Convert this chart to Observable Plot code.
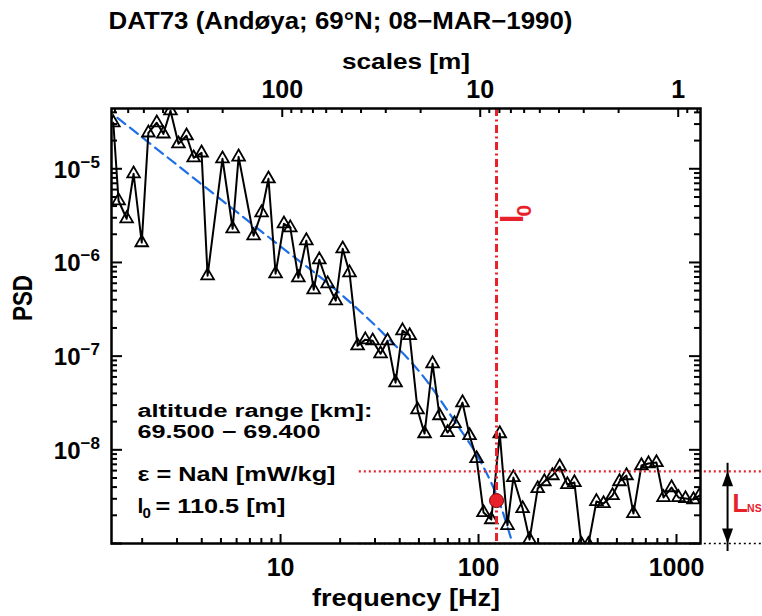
<!DOCTYPE html>
<html><head><meta charset="utf-8">
<script src="https://cdn.jsdelivr.net/npm/d3@7"></script>
<script src="https://cdn.jsdelivr.net/npm/@observablehq/plot@0.6"></script>
<style>body{margin:0;background:#fff}</style>
</head><body>
<div id="chart"></div>
<script>
// ---------- data ----------
const titleText = "DAT73 (Andøya; 69°N; 08−MAR−1990)";

const freq = [1.43, 1.52, 1.67, 1.81, 1.99, 2.15, 2.37, 2.56, 2.78, 3.05,
  3.35, 3.64, 3.99, 4.28, 5.09, 5.73, 6.14, 7.31, 8.02, 8.69,
  9.44, 10.4, 11.2, 12.3, 13.5, 14.7, 15.7, 17.3, 19.0, 20.6,
  22.3, 24.5, 26.8, 29.2, 32.0, 34.7, 38.1, 41.3, 44.9, 49.2,
  53.4, 58.6, 63.5, 69.7, 75.6, 83.0, 90.1, 97.8, 106, 116,
  128, 140, 150, 167, 181, 199, 215, 236, 257, 281,
  305, 331, 359, 394, 428, 475, 515, 559, 606, 665,
  722, 792, 860, 944, 1024, 1110, 1218, 1306];

const psd = [3.10e-5, 4.56e-6, 2.93e-6, 8.85e-6, 1.63e-6, 2.42e-5, 3.10e-5, 2.36e-5, 4.16e-5, 1.85e-5,
  2.25e-5, 1.31e-5, 1.48e-5, 7.23e-7, 1.28e-5, 2.29e-6, 1.34e-5, 1.93e-6, 3.40e-6, 7.82e-6,
  7.59e-7, 2.59e-6, 2.35e-6, 6.87e-7, 1.71e-6, 5.12e-7, 1.07e-6, 5.93e-7, 3.91e-7, 1.40e-6,
  7.78e-7, 1.29e-7, 1.50e-7, 1.46e-7, 1.06e-7, 1.46e-7, 5.21e-8, 1.87e-7, 1.66e-7, 2.68e-8,
  1.49e-8, 8.32e-8, 2.32e-8, 1.53e-8, 1.91e-8, 3.19e-8, 1.42e-8, 8.07e-9, 2.14e-9, 1.80e-9,
  1.49e-8, 1.56e-9, 5.06e-9, 2.36e-9, 1.10e-9, 3.86e-9, 4.58e-9, 5.31e-9, 6.62e-9, 4.26e-9,
  4.48e-9, 9.8e-10, 9.8e-10, 2.81e-9, 2.67e-9, 3.25e-9, 4.58e-9, 5.31e-9, 2.09e-9, 6.79e-9,
  7.13e-9, 7.31e-9, 3.10e-9, 3.95e-9, 3.10e-9, 3.02e-9, 2.94e-9, 3.25e-9];

// model spectrum (blue dashed)
const modelFreq = [1.50, 3.94, 10.0, 20.1, 33.1, 52.7, 78.3, 102.4, 129.2, 146.9];
const modelPsd  = [3.50e-5, 6.98e-6, 1.48e-6, 4.62e-7, 1.74e-7, 6.04e-8, 1.82e-8, 7.50e-9, 2.54e-9, 1.08e-9];

const l0Freq = 123.3;        // inner scale marker (Hz)
const l0Psd = 2.87e-9;       // red dot
const noiseLevel = 5.9e-9;   // red dotted line
const floorLevel = 1.0e-9;   // black dotted line
const levelFreqRange = [25, 2700];
const arrowFreq = 1811;
const rocketSpeed = 1020;    // scale [m] = speed / frequency

const annotations = ["altitude range [km]:", "69.500 − 69.400", "ε = NaN [mW/kg]"];
const l0Text = ["l", "0", "= 110.5 [m]"];
const lnsText = ["L", "NS"];

const xTickMajor = [10, 100, 1000];
const xTickLabels = ["10", "100", "1000"];
const xTickMinor = [2,3,4,5,6,7,8,9,20,30,40,50,60,70,80,90,200,300,400,500,600,700,800,900];
const scaleTickMajor = [100, 10, 1];
const scaleTickLabels = ["100", "10", "1"];
const scaleTickMinor = [700,600,500,400,300,200,90,80,70,60,50,40,30,20,9,8,7,6,5,4,3,2,0.9,0.8];
const yTickMajor = [1e-9, 1e-8, 1e-7, 1e-6, 1e-5];
const yLabelValues = [1e-8, 1e-7, 1e-6, 1e-5];
const yLabelExponents = ["−8", "−7", "−6", "−5"];
const yTickMinor = [1e-9,1e-8,1e-7,1e-6,1e-5].flatMap(d => [2,3,4,5,6,7,8,9].map(m => m*d)).filter(v => v <= 4.4e-5);

// widths (px) of the wide IDL lettering in the reference
const textWidths = new Map([
  [titleText, 464], ["scales [m]", 128], ["frequency [Hz]", 188], ["PSD", 46],
  [annotations[0], 235], [annotations[1], 183], [annotations[2], 198], [l0Text[2], 130]
]);

// ---------- layout ----------
const W = 762, H = 616, mT = 108, mB = 73, mL = 111, mR = 62;
const fh = H - mT - mB, fw = W - mL - mR;
const font = "'Liberation Sans', Arial, Helvetica, sans-serif";
const red = "#e8202a", blue = "#1d6fe8";

const data = freq.map((f, i) => ({f, p: psd[i]}));
const model = modelFreq.map((f, i) => ({f, p: modelPsd[i]}));

const headUp = {draw(ctx) { ctx.moveTo(0, 0); ctx.lineTo(-5.5, 15); ctx.lineTo(5.5, 15); ctx.closePath(); }};
const headDown = {draw(ctx) { ctx.moveTo(0, 0); ctx.lineTo(-5.5, -15); ctx.lineTo(5.5, -15); ctx.closePath(); }};

const txt = (arr, o) => Plot.text(arr, {fontWeight: "bold", lineAnchor: "bottom", ...o});

const plot = Plot.plot({
  width: W, height: H,
  marginTop: mT, marginBottom: mB, marginLeft: mL, marginRight: mR,
  x: {type: "log", domain: [1.4, 1322], axis: null},
  y: {type: "log", domain: [1e-9, 4.4e-5], axis: null},
  style: {fontFamily: font, fontWeight: "bold", background: "white", color: "black", overflow: "visible"},
  marks: [
    Plot.line(model, {x: "f", y: "p", stroke: blue, strokeWidth: 2.2, strokeDasharray: "10,6", curve: "monotone-x", clip: true}),
    Plot.line(data, {x: "f", y: "p", stroke: "black", strokeWidth: 2, clip: true}),
    Plot.dot(data, {x: "f", y: "p", symbol: "triangle", r: 4.7, stroke: "black", strokeWidth: 1.8, fill: "none", clip: true}),
    Plot.ruleX([l0Freq], {stroke: red, strokeWidth: 3, strokeDasharray: "8,3.5,2,3.5"}),
    Plot.ruleY([noiseLevel], {x1: levelFreqRange[0], x2: levelFreqRange[1], stroke: red, strokeWidth: 2.2, strokeDasharray: "2,3"}),
    Plot.ruleY([floorLevel], {x1: levelFreqRange[0], x2: levelFreqRange[1], stroke: "black", strokeWidth: 1.6, strokeDasharray: "2,3"}),
    Plot.dot([{f: l0Freq, p: l0Psd}], {x: "f", y: "p", r: 7, fill: red, stroke: "#7a0000", strokeWidth: 1}),
    Plot.ruleX([arrowFreq], {y1: floorLevel, y2: noiseLevel, stroke: "black", strokeWidth: 2, insetTop: 8, insetBottom: 8}),
    Plot.dot([{f: arrowFreq, p: noiseLevel}], {x: "f", y: "p", symbol: headUp, fill: "black", stroke: "none"}),
    Plot.dot([{f: arrowFreq, p: floorLevel}], {x: "f", y: "p", symbol: headDown, fill: "black", stroke: "none"}),
    Plot.frame({stroke: "black", strokeWidth: 2.5}),
    // ticks (inside the frame)
    Plot.ruleX(xTickMajor, {insetTop: fh - 9, strokeWidth: 2}),
    Plot.ruleX(xTickMinor, {insetTop: fh - 5, strokeWidth: 2}),
    Plot.ruleX(scaleTickMajor, {x: s => rocketSpeed / s, insetBottom: fh - 9, strokeWidth: 2}),
    Plot.ruleX(scaleTickMinor, {x: s => rocketSpeed / s, insetBottom: fh - 5, strokeWidth: 2}),
    Plot.ruleY(yTickMajor, {insetRight: fw - 11, strokeWidth: 2}),
    Plot.ruleY(yTickMinor, {insetRight: fw - 6, strokeWidth: 2}),
    Plot.ruleY(yTickMajor, {insetLeft: fw - 11, strokeWidth: 2}),
    Plot.ruleY(yTickMinor, {insetLeft: fw - 6, strokeWidth: 2}),
    // texts
    txt([titleText], {frameAnchor: "top-left", textAnchor: "start", dx: -3, dy: -80, fontSize: 23}),
    txt(["scales [m]"], {frameAnchor: "top", dy: -40, fontSize: 22}),
    txt(scaleTickMajor, {x: s => rocketSpeed / s, text: (d, i) => scaleTickLabels[i], frameAnchor: "top", dy: -11, fontSize: 25}),
    txt(xTickMajor, {x: d => d, text: (d, i) => xTickLabels[i], frameAnchor: "bottom", dy: 32, fontSize: 25}),
    txt(["frequency [Hz]"], {frameAnchor: "bottom", dy: 62, fontSize: 24}),
    txt(yLabelValues, {y: d => d, text: () => "10", frameAnchor: "left", textAnchor: "end", dx: -31, dy: 9, fontSize: 24}),
    txt(yLabelValues, {y: d => d, text: (d, i) => yLabelExponents[i], frameAnchor: "left", textAnchor: "start", dx: -31, dy: -1, fontSize: 17}),
    Plot.text(["PSD"], {frameAnchor: "left", rotate: -90, lineAnchor: "middle", dx: -88, dy: -5, fontSize: 27, fontWeight: "bold"}),
    txt([annotations[0]], {frameAnchor: "bottom-left", textAnchor: "start", dx: 26, dy: -127, fontSize: 18}),
    txt([annotations[1]], {frameAnchor: "bottom-left", textAnchor: "start", dx: 26, dy: -106, fontSize: 18}),
    txt([annotations[2]], {frameAnchor: "bottom-left", textAnchor: "start", dx: 26, dy: -63, fontSize: 21}),
    txt([l0Text[0]], {frameAnchor: "bottom-left", textAnchor: "start", dx: 26, dy: -31, fontSize: 21}),
    txt([l0Text[1]], {frameAnchor: "bottom-left", textAnchor: "start", dx: 31, dy: -26, fontSize: 15}),
    txt([l0Text[2]], {frameAnchor: "bottom-left", textAnchor: "start", dx: 44, dy: -31, fontSize: 21}),
    // l0 label next to the vertical line (rotated)
    txt([l0Text[0]], {x: () => l0Freq, frameAnchor: "top", rotate: -90, textAnchor: "start", dx: 26, dy: 114.7, fontSize: 32, fill: red}),
    txt([l0Text[1]], {x: () => l0Freq, frameAnchor: "top", rotate: -90, textAnchor: "start", dx: 34, dy: 108, fontSize: 21, fill: red}),
    // L_NS label
    txt([lnsText[0]], {x: () => arrowFreq, frameAnchor: "bottom", textAnchor: "start", dx: 5, dy: -32, fontSize: 25, fill: red}),
    txt([lnsText[1]], {x: () => arrowFreq, frameAnchor: "bottom", textAnchor: "start", dx: 19.5, dy: -32, fontSize: 10.5, fill: red})
  ]
});

document.getElementById("chart").appendChild(plot);
plot.querySelectorAll("text").forEach(t => {
  const w = textWidths.get(t.textContent);
  if (w) {
    t.setAttribute("textLength", w);
    t.setAttribute("lengthAdjust", "spacingAndGlyphs");
  }
});
</script>
</body></html>
